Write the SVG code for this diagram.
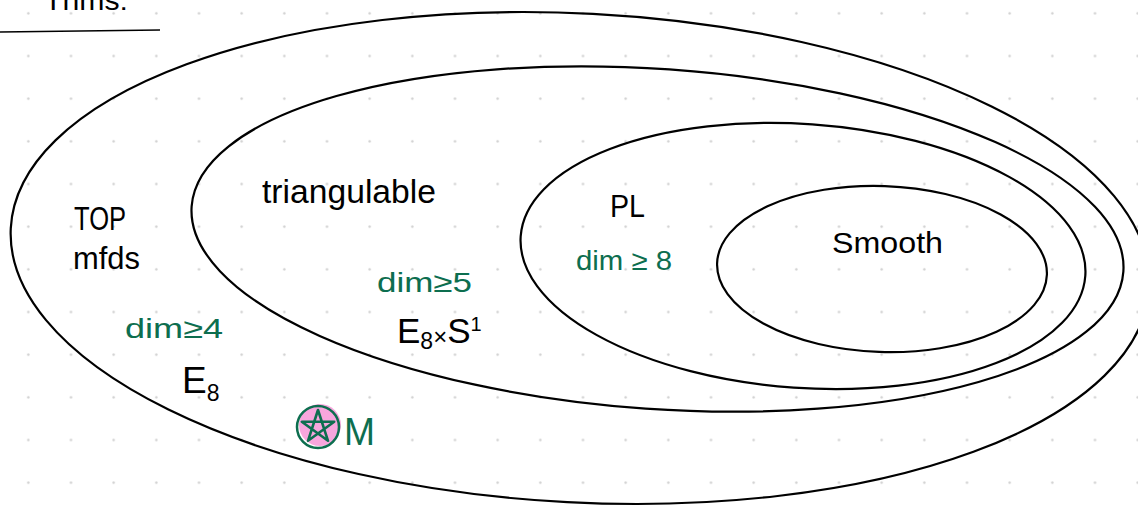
<svg xmlns="http://www.w3.org/2000/svg" width="1138" height="506" viewBox="0 0 1138 506">
<defs>
<pattern id="dots" patternUnits="userSpaceOnUse" x="7" y="-8" width="42.667" height="42.667">
<circle cx="21.333" cy="21.333" r="1.2" fill="#cfcfcf"/>
</pattern>
</defs>
<style>
.set{fill:none;stroke:#000;stroke-width:2.2}
.lbl{font-family:"Liberation Sans",Arial,sans-serif;fill:#000}
.grn{font-family:"Liberation Sans",Arial,sans-serif;fill:#0d6e4f}
</style>
<rect width="1138" height="506" fill="#fff"/>
<rect width="1138" height="506" fill="url(#dots)"/>
<g id="header">
<text class="lbl" x="44" y="10" font-size="28" textLength="84" lengthAdjust="spacingAndGlyphs">Thms:</text>
<path d="M0 32 L160 30" stroke="#000" stroke-width="1.6" fill="none"/>
</g>
<g id="node-top">
<ellipse class="set" cx="580" cy="258" rx="570" ry="244.5" transform="rotate(3 580 258)"/>
<text class="lbl" x="74" y="230" font-size="34" textLength="52" lengthAdjust="spacingAndGlyphs">TOP</text>
<text class="lbl" x="73" y="269" font-size="31" textLength="67" lengthAdjust="spacingAndGlyphs">mfds</text>
<text class="grn" x="125" y="338" font-size="28" textLength="98" lengthAdjust="spacingAndGlyphs">dim≥4</text>
<text class="lbl" x="182" y="393" font-size="37">E<tspan font-size="23" dy="8">8</tspan></text>
</g>
<g id="node-triangulable">
<ellipse class="set" cx="657.5" cy="239" rx="467" ry="170" transform="rotate(4 657.5 239)"/>
<text class="lbl" x="262" y="203" font-size="33" textLength="174" lengthAdjust="spacingAndGlyphs">triangulable</text>
<text class="grn" x="377" y="292" font-size="28" textLength="95" lengthAdjust="spacingAndGlyphs">dim≥5</text>
<text class="lbl" x="397" y="343" font-size="35">E<tspan font-size="23" dy="6">8</tspan><tspan font-size="24" dy="-4">×</tspan><tspan font-size="35" dy="-2">S</tspan><tspan font-size="20" dy="-12">1</tspan></text>
</g>
<g id="node-pl">
<ellipse class="set" cx="803" cy="256" rx="283" ry="132" transform="rotate(4 803 256)"/>
<text class="lbl" x="610" y="217" font-size="31" textLength="35" lengthAdjust="spacingAndGlyphs">PL</text>
<text class="grn" x="576" y="270" font-size="28" textLength="96" lengthAdjust="spacingAndGlyphs">dim ≥ 8</text>
</g>
<g id="node-smooth">
<ellipse class="set" cx="882" cy="269" rx="165" ry="83" transform="rotate(2 882 269)"/>
<text class="lbl" x="832" y="253" font-size="30" textLength="111" lengthAdjust="spacingAndGlyphs">Smooth</text>
</g>
<g id="node-m">
<circle cx="320" cy="425" r="21" fill="#f7a6dd"/>
<circle cx="318" cy="427" r="21" fill="none" stroke="#0d6e4f" stroke-width="2.5"/>
<path d="M318 410 L328 440.8 L301.8 421.7 L334.2 421.7 L308 440.8 Z" fill="none" stroke="#0d6e4f" stroke-width="2.6" stroke-linejoin="round"/>
<text class="grn" x="344" y="445" font-size="38" textLength="31" lengthAdjust="spacingAndGlyphs">M</text>
</g>
<g id="connectors"></g>
</svg>
